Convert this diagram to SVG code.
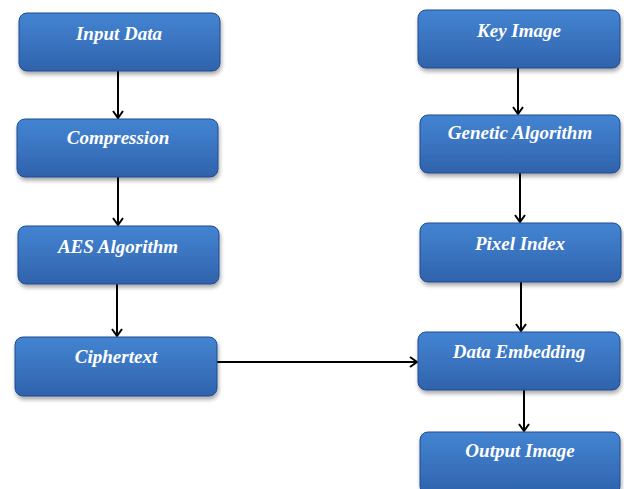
<svg xmlns="http://www.w3.org/2000/svg" width="624" height="489" viewBox="0 0 624 489">
<defs>
<linearGradient id="g" x1="0" y1="0" x2="0" y2="1">
<stop offset="0" stop-color="#4384d2"/>
<stop offset="0.5" stop-color="#3a74c0"/>
<stop offset="1" stop-color="#2f62ab"/>
</linearGradient>
<filter id="sh" x="-10%" y="-10%" width="125%" height="140%">
<feGaussianBlur in="SourceAlpha" stdDeviation="2"/>
<feOffset dx="1" dy="3" result="b"/>
<feComponentTransfer><feFuncA type="linear" slope="0.35"/></feComponentTransfer>
<feMerge><feMergeNode/><feMergeNode in="SourceGraphic"/></feMerge>
</filter>
<marker id="ah" markerWidth="12" markerHeight="12" refX="10" refY="6" orient="auto" markerUnits="userSpaceOnUse">
<path d="M3,1 L10,6 L3,11" fill="none" stroke="#000" stroke-width="2"/>
</marker>
</defs>
<style>
.box{fill:url(#g);stroke:#1f4d8f;stroke-width:1;filter:url(#sh)}
.lbl{font-family:"Liberation Serif","Times New Roman",serif;font-weight:bold;font-style:italic;font-size:19px;fill:#fff;text-anchor:middle}
.con{stroke:#000;stroke-width:2;fill:none;marker-end:url(#ah)}
</style>
<rect width="624" height="489" fill="#fff"/>
<g id="connectors">
<line class="con" x1="118" y1="71" x2="118" y2="118"/>
<line class="con" x1="118" y1="177" x2="118" y2="225"/>
<line class="con" x1="117" y1="284" x2="117" y2="336"/>
<line class="con" x1="217" y1="362" x2="417" y2="362"/>
<line class="con" x1="518" y1="68" x2="518" y2="114"/>
<line class="con" x1="520" y1="173" x2="520" y2="222"/>
<line class="con" x1="521" y1="282" x2="521" y2="331"/>
<line class="con" x1="524" y1="390" x2="524" y2="431"/>
</g>
<g id="n1"><rect class="box" x="19" y="13" width="201" height="58" rx="8"/><text class="lbl" x="119" y="40">Input Data</text></g>
<g id="n2"><rect class="box" x="17" y="119" width="201" height="58" rx="8"/><text class="lbl" x="118" y="144">Compression</text></g>
<g id="n3"><rect class="box" x="18" y="226" width="201" height="58" rx="8"/><text class="lbl" x="118" y="253">AES Algorithm</text></g>
<g id="n4"><rect class="box" x="15" y="337" width="202" height="59" rx="8"/><text class="lbl" x="116" y="363">Ciphertext</text></g>
<g id="n5"><rect class="box" x="418" y="10" width="202" height="58" rx="8"/><text class="lbl" x="519" y="37">Key Image</text></g>
<g id="n6"><rect class="box" x="420" y="115" width="200" height="58" rx="8"/><text class="lbl" x="520" y="139">Genetic Algorithm</text></g>
<g id="n7"><rect class="box" x="420" y="223" width="201" height="59" rx="8"/><text class="lbl" x="520" y="250">Pixel Index</text></g>
<g id="n8"><rect class="box" x="418" y="332" width="202" height="58" rx="8"/><text class="lbl" x="519" y="358">Data Embedding</text></g>
<g id="n9"><rect class="box" x="420" y="432" width="200" height="62" rx="8"/><text class="lbl" x="520" y="457">Output Image</text></g>
</svg>
